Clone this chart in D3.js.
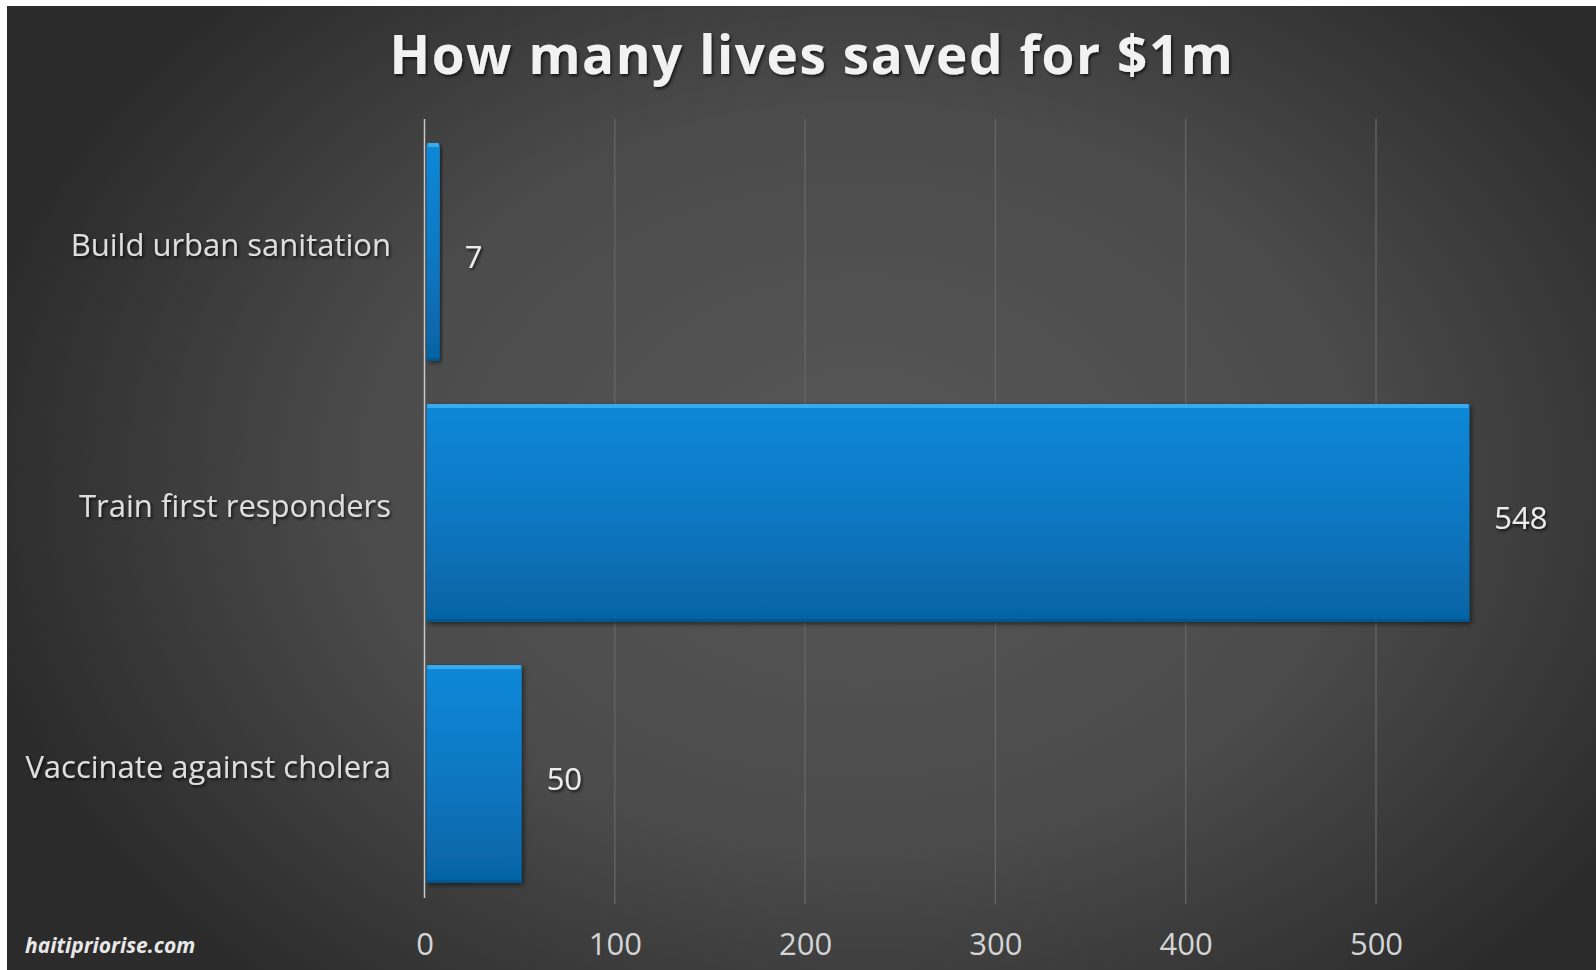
<!DOCTYPE html>
<html><head><meta charset="utf-8">
<script src="https://cdn.jsdelivr.net/npm/d3@7"></script>
<style>html,body{margin:0;padding:0;background:#fff;overflow:hidden}</style>
</head><body>
<svg id="chart" width="1596" height="970"></svg>
<script>
const categories = ["Build urban sanitation", "Train first responders", "Vaccinate against cholera"];
const values = [7, 548, 50];
const xTicks = [0, 100, 200, 300, 400, 500];
const title = "How many lives saved for $1m";
const source = "haitipriorise.com";

const svg = d3.select("#chart");
const W = 1596, H = 970;
const defs = svg.append("defs");

const bg = defs.append("radialGradient").attr("id","bg")
  .attr("gradientUnits","userSpaceOnUse").attr("cx",860).attr("cy",480).attr("r",900)
  .attr("gradientTransform","translate(860,480) scale(1,0.75) translate(-860,-480)");
bg.append("stop").attr("offset","0").attr("stop-color","#575757");
bg.append("stop").attr("offset","0.55").attr("stop-color","#4b4b4b");
bg.append("stop").attr("offset","1").attr("stop-color","#2b2b2b");

const bar = defs.append("linearGradient").attr("id","barg").attr("x1",0).attr("y1",0).attr("x2",0).attr("y2",1);
bar.append("stop").attr("offset","0").attr("stop-color","#1188d8");
bar.append("stop").attr("offset","0.5").attr("stop-color","#0a78c4");
bar.append("stop").attr("offset","1").attr("stop-color","#0663a3");

const sh = defs.append("filter").attr("id","shadow").attr("x","-20%").attr("y","-20%").attr("width","140%").attr("height","140%");
sh.append("feDropShadow").attr("dx",2).attr("dy",2).attr("stdDeviation",2.5).attr("flood-color","#000").attr("flood-opacity",0.55);

const tsh = defs.append("filter").attr("id","tshadow").attr("x","-5%").attr("y","-20%").attr("width","110%").attr("height","140%");
tsh.append("feDropShadow").attr("dx",1.5).attr("dy",2).attr("stdDeviation",1.5).attr("flood-color","#000").attr("flood-opacity",0.7);

svg.append("rect").attr("x",7).attr("y",6).attr("width",W-7).attr("height",H-6).attr("fill","url(#bg)");

const x = d3.scaleLinear().domain([0, 548]).range([424.5, 424.5 + 548*1.903]);
const y = d3.scaleBand().domain(categories).range([122, 904]).paddingInner(0.165).paddingOuter(0.08);

// gridlines
svg.append("g").selectAll("line").data(xTicks.slice(1)).join("line")
  .attr("x1",d=>x(d)).attr("x2",d=>x(d)).attr("y1",119).attr("y2",904)
  .attr("stroke","#666").attr("stroke-width",1.3);

// bars
const g = svg.append("g");
g.selectAll("rect.bar").data(values).join("rect").attr("class","bar")
  .attr("x", x(0)+2).attr("y",(d,i)=>y(categories[i]))
  .attr("width", d=>x(d)-x(0)).attr("height", y.bandwidth())
  .attr("rx",(d)=> d<20?4:1)
  .attr("fill","url(#barg)").attr("filter","url(#shadow)");
// top highlight
g.selectAll("rect.hl").data(values).join("rect").attr("class","hl")
  .attr("x", x(0)+3).attr("y",(d,i)=>y(categories[i]))
  .attr("width", d=>Math.max(0,x(d)-x(0)-2)).attr("height", 4)
  .attr("fill","#3cb0ee").attr("opacity",0.9);
// bottom darker edge
g.selectAll("rect.bt").data(values).join("rect").attr("class","bt")
  .attr("x", x(0)+2).attr("y",(d,i)=>y(categories[i])+y.bandwidth()-3)
  .attr("width", d=>x(d)-x(0)).attr("height", 3)
  .attr("fill","#055287").attr("opacity",0.8);

// axis line
svg.append("line").attr("x1",x(0)).attr("x2",x(0)).attr("y1",119).attr("y2",898)
  .attr("stroke","#c8c8c8").attr("stroke-width",1.5);

// x axis tick labels
const xa = d3.axisBottom(x).tickValues(xTicks).tickSize(0).tickPadding(0);
const ax = svg.append("g").attr("transform","translate(0,935)").call(xa);
ax.select(".domain").remove();
ax.selectAll("text").attr("font-family","'Open Sans', sans-serif").attr("font-size",31)
  .attr("fill","#d4d4d4").attr("dy","0.32em").attr("y",10);

// category labels
const ya = d3.axisLeft(y).tickSize(0).tickPadding(0);
const ay = svg.append("g").attr("transform","translate(391,0)").call(ya);
ay.select(".domain").remove();
ay.selectAll("text").attr("font-family","'Open Sans', sans-serif").attr("font-size",31)
  .attr("fill","#dedede").attr("dy","0.32em").attr("filter","url(#tshadow)");
ay.selectAll(".tick").attr("transform",d=>`translate(0,${y(d)+y.bandwidth()/2 - 6})`);

// value labels
svg.append("g").selectAll("text").data(values).join("text")
  .attr("x",d=>x(d)+27).attr("y",(d,i)=>y(categories[i])+y.bandwidth()/2+6)
  .attr("dy","0.32em")
  .attr("font-family","'Open Sans', sans-serif").attr("font-size",31)
  .attr("fill","#ececec").attr("filter","url(#tshadow)")
  .text(d=>d);

// title
svg.append("text").attr("x",812).attr("y",74).attr("text-anchor","middle")
  .attr("font-family","'Open Sans', sans-serif").attr("font-weight","bold").attr("font-size",53)
  .attr("letter-spacing","1.6")
  .attr("fill","#f2f2f2").attr("filter","url(#tshadow)").text(title);

// source
svg.append("text").attr("x",25).attr("y",953)
  .attr("font-family","'Open Sans', sans-serif").attr("font-weight","bold").attr("font-style","italic").attr("font-size",21)
  .attr("fill","#e8e8e8").text(source);
</script>
</body></html>
